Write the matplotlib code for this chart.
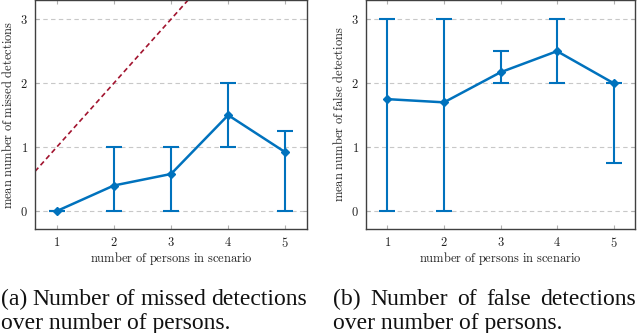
import matplotlib
matplotlib.use("Agg")
import matplotlib.pyplot as plt
import numpy as np

persons = [1, 2, 3, 4, 5]
missed_mean = [0.0, 0.4, 0.58, 1.5, 0.92]
missed_low = [0.0, 0.0, 0.0, 1.0, 0.0]
missed_high = [0.0, 1.0, 1.0, 2.0, 1.25]
false_mean = [1.75, 1.7, 2.17, 2.5, 2.0]
false_low = [0.0, 0.0, 2.0, 2.0, 0.75]
false_high = [3.0, 3.0, 2.5, 3.0, 2.0]
ref_x = [0.62, 3.3]
ref_y = [0.62, 3.3]

BLUE = "#0072bd"
RED = "#a2142f"
W, H = 640, 333

plt.rcParams['axes.formatter.use_mathtext'] = True
plt.rcParams['mathtext.fontset'] = 'cm'
fig = plt.figure(figsize=(6.4, 3.33), dpi=100)

def make_ax(x0, x1, y0, y1):
    return fig.add_axes([x0 / W, 1 - y1 / H, (x1 - x0) / W, (y1 - y0) / H])

def cm(s):
    return r"$\mathrm{" + s.replace(" ", r"\ ") + "}$"

def style(ax, ylabel):
    ax.set_xlim(0.62, 5.38)
    ax.set_ylim(-0.28, 3.3)
    ax.set_xticks(persons)
    ax.set_yticks([0, 1, 2, 3])
    ax.yaxis.grid(True, linestyle=(0, (4, 3)), color="#c8c8c8", linewidth=0.8)
    ax.set_axisbelow(True)
    for s in ax.spines.values():
        s.set_color("#404040")
        s.set_linewidth(1.0)
    ax.tick_params(direction="in", length=3, color="#b0b0b0", top=True, right=True,
                   labelsize=9, labelcolor="#222222", pad=5)
    for lab in ax.get_xticklabels() + ax.get_yticklabels():
        lab.set_family("cmr10")
    ax.set_xlabel(cm("number of persons in scenario"), fontsize=9, labelpad=0, color="#222222")
    ax.set_ylabel(cm(ylabel), fontsize=9, labelpad=4, color="#222222")

def draw(ax, mean, low, high):
    m = np.array(mean)
    yerr = [m - np.array(low), np.array(high) - m]
    ax.errorbar(persons, mean, yerr=yerr, color=BLUE, linewidth=1.8, elinewidth=1.5,
                capsize=6, capthick=1.5, marker="D", markersize=4, zorder=3)

ax1 = make_ax(35, 307, 0, 229)
ax1.plot(ref_x, ref_y, color=RED, linestyle=(0, (3, 2)), linewidth=1.2, zorder=2)
draw(ax1, missed_mean, missed_low, missed_high)
style(ax1, "mean number of missed detections")

ax2 = make_ax(366, 635, 0, 229)
draw(ax2, false_mean, false_low, false_high)
style(ax2, "mean number of false detections")

cap_font = dict(family="Liberation Serif", fontsize=17, color="#111111")

def justified(words, x0, x1, y):
    fig.canvas.draw()
    r = fig.canvas.get_renderer()
    texts = [fig.text(0, 0, w, **cap_font) for w in words]
    widths = [t.get_window_extent(r).width for t in texts]
    gap = (x1 - x0 - sum(widths)) / (len(words) - 1)
    x = x0
    for t, w in zip(texts, widths):
        t.set_position((x / W, 1 - y / H))
        t.set_va("center_baseline")
        x += w + gap

justified("(a) Number of missed detections".split(), 1, 307, 297)
fig.text(1 / W, 1 - 321 / H, "over number of persons.", va="center_baseline", **cap_font)
justified("(b) Number of false detections".split(), 333, 636, 297)
fig.text(333 / W, 1 - 321 / H, "over number of persons.", va="center_baseline", **cap_font)

fig.savefig("out.png", dpi=100)
